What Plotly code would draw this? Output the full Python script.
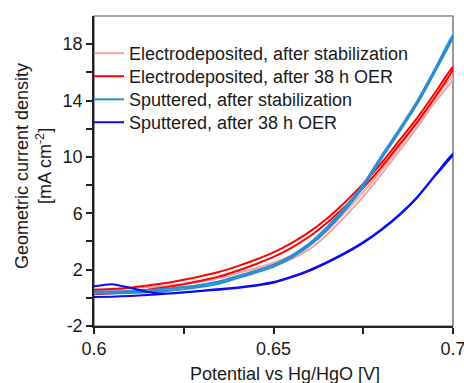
import plotly.graph_objects as go

# Potential grid (V vs Hg/HgO), forward scan
potential = [0.600, 0.605, 0.610, 0.615, 0.620, 0.625, 0.630, 0.635, 0.640, 0.645,
             0.650, 0.655, 0.660, 0.665, 0.670, 0.675, 0.680, 0.685, 0.690, 0.695, 0.700]

# Electrodeposited, after stabilization (forward / reverse)
ed_stab_fwd = [0.40, 0.41, 0.45, 0.52, 0.62, 0.75, 0.92, 1.15, 1.52, 1.88,
               2.25, 2.75, 3.45, 4.50, 5.80, 7.20, 8.75, 10.40, 12.10, 13.90, 15.50]
ed_stab_rev = [0.62, 0.64, 0.68, 0.76, 0.86, 0.99, 1.16, 1.40, 1.75, 2.10,
               2.50, 3.00, 3.72, 4.78, 6.10, 7.50, 9.05, 10.70, 12.40, 14.15, 15.75]

# Electrodeposited, after 38 h OER
ed_oer_fwd = [0.25, 0.32, 0.42, 0.58, 0.75, 0.97, 1.23, 1.52, 1.92, 2.38,
              2.90, 3.55, 4.35, 5.35, 6.50, 7.80, 9.25, 10.85, 12.45, 14.25, 16.20]
ed_oer_rev = [0.55, 0.62, 0.72, 0.88, 1.05, 1.28, 1.55, 1.85, 2.25, 2.70,
              3.22, 3.88, 4.68, 5.65, 6.80, 8.10, 9.55, 11.15, 12.75, 14.55, 16.40]

# Sputtered, after stabilization
sp_stab_fwd = [0.30, 0.31, 0.34, 0.40, 0.49, 0.61, 0.78, 1.02, 1.40, 1.78,
               2.20, 2.85, 3.70, 4.85, 6.25, 7.85, 9.85, 11.75, 13.75, 16.05, 18.50]
sp_stab_rev = [0.45, 0.46, 0.49, 0.55, 0.64, 0.76, 0.93, 1.17, 1.55, 1.93,
               2.35, 3.00, 3.87, 5.05, 6.45, 8.05, 10.05, 11.95, 13.95, 16.25, 18.70]

# Sputtered, after 38 h OER
sp_oer_fwd = [0.05, 0.08, 0.13, 0.20, 0.28, 0.38, 0.48, 0.58, 0.70, 0.86,
              1.07, 1.45, 1.92, 2.50, 3.15, 3.90, 4.80, 5.85, 7.10, 8.65, 10.15]
sp_oer_rev = [0.82, 0.97, 0.72, 0.42, 0.30, 0.40, 0.51, 0.62, 0.74, 0.90,
              1.12, 1.50, 1.97, 2.55, 3.20, 3.95, 4.85, 5.90, 7.15, 8.70, 10.25]

names = ["Electrodeposited, after stabilization",
         "Electrodeposited, after 38 h OER",
         "Sputtered, after stabilization",
         "Sputtered, after 38 h OER"]
colors = ["#F4A3A3", "#FF0000", "#2B8ED3", "#0A0AF5"]
series = [(ed_stab_fwd, ed_stab_rev), (ed_oer_fwd, ed_oer_rev),
          (sp_stab_fwd, sp_stab_rev), (sp_oer_fwd, sp_oer_rev)]
legend_ids = ["legend", "legend2", "legend3", "legend4"]

FONT = "Liberation Sans, Arial, sans-serif"

fig = go.Figure()
for name, col, (fwd, rev), lg in zip(names, colors, series, legend_ids):
    xs = list(potential) + list(reversed(potential))
    ys = list(fwd) + list(reversed(rev))
    fig.add_trace(go.Scatter(x=xs, y=ys, mode="lines", name=name, legend=lg,
                             line=dict(color=col, width=2, shape="spline", smoothing=0.6)))

y_major = [-2, 2, 6, 10, 14, 18]
y_minor = [0, 4, 8, 12, 16]
x_major = [0.6, 0.65, 0.7]
x_minor = [0.625, 0.675]

# legend row placement (paper coords)
legend_rows = [0.9387, 0.8645, 0.790, 0.716]
legend_x = -0.014
leg_common = dict(xanchor="left", yanchor="top", bgcolor="rgba(0,0,0,0)",
                  font=dict(family=FONT, size=18, color="#1a1a1a"))

fig.update_layout(
    width=464, height=383,
    margin=dict(l=94, r=11, t=16, b=57),
    paper_bgcolor="white", plot_bgcolor="white",
    font=dict(family=FONT, size=18, color="#1a1a1a"),
    showlegend=True,
    legend=dict(x=legend_x, y=legend_rows[0], **leg_common),
    legend2=dict(x=legend_x, y=legend_rows[1], **leg_common),
    legend3=dict(x=legend_x, y=legend_rows[2], **leg_common),
    legend4=dict(x=legend_x, y=legend_rows[3], **leg_common),
    xaxis=dict(range=[0.6, 0.7], tickvals=x_major, ticktext=["0.6", "0.65", "0.7"],
               ticks="outside", ticklen=6, tickwidth=1.5, tickcolor="#222",
               ticklabeloverflow="allow",
               minor=dict(tickvals=x_minor, ticks="outside", ticklen=6, tickwidth=1.5,
                          tickcolor="#222", showgrid=False),
               showline=True, linecolor="#222", linewidth=1.5,
               showgrid=False, zeroline=False, automargin=False),
    yaxis=dict(range=[-2, 20], tickvals=y_major, ticktext=[str(v) for v in y_major],
               ticks="outside", ticklen=6, tickwidth=1.5, tickcolor="#222",
               minor=dict(tickvals=y_minor, ticks="outside", ticklen=6, tickwidth=1.5,
                          tickcolor="#222", showgrid=False),
               showline=True, linecolor="#222", linewidth=1.5,
               showgrid=False, zeroline=False, automargin=False),
    shapes=[dict(type="rect", xref="paper", yref="paper", x0=0, x1=1, y0=0, y1=1,
                 line=dict(color="#555", width=1.2), layer="below")],
    annotations=[
        dict(text="Potential vs Hg/HgO [V]", xref="paper", yref="paper",
             x=0.531, y=-0.115, xanchor="center", yanchor="top", showarrow=False,
             font=dict(size=18)),
        dict(text="Geometric current density<br>[mA cm<sup>-2</sup>]", xref="paper", yref="paper",
             x=-0.17, y=0.516, xanchor="center", yanchor="middle", showarrow=False,
             textangle=-90, font=dict(size=18)),
    ],
)

fig.write_html("out.html")
